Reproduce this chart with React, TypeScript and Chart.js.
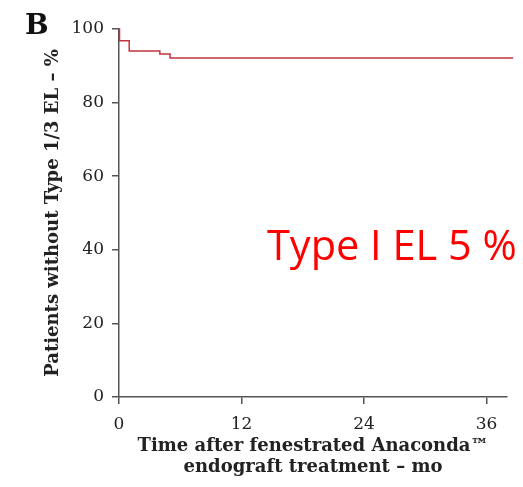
import React, { useEffect, useRef } from "react";
import { Chart, registerables } from "chart.js";

Chart.register(...registerables);

const months = [0, 0.05, 1, 4, 5, 38.6];
const survival = [100, 96.8, 94.0, 93.2, 92.1, 92.1];
const xTicks = [0, 12, 24, 36];
const yTicks = [0, 20, 40, 60, 80, 100];

const serif = "'DejaVu Serif', serif";
const axisColor = "#555555";

const textPlugin = {
  id: "extraText",
  afterDraw(chart: any) {
    const ctx = chart.ctx;
    ctx.save();
    ctx.fillStyle = "#111111";
    ctx.font = `bold 28px ${serif}`;
    ctx.textBaseline = "alphabetic";
    ctx.textAlign = "left";
    ctx.fillText("B", 25, 34);
    ctx.fillStyle = "#ff0000";
    ctx.font = "41.5px 'Open Sans', sans-serif";
    ctx.fillText("Type I EL 5 %", 267, 260);
    ctx.restore();
  },
};

export default function App() {
  const ref = useRef<HTMLCanvasElement>(null);
  useEffect(() => {
    if (!ref.current) return;
    const chart = new Chart(ref.current, {
      type: "line",
      data: {
        datasets: [
          {
            data: months.map((m, i) => ({ x: m, y: survival[i] })),
            borderColor: "#c4343f",
            borderWidth: 1.5,
            stepped: true,
            pointRadius: 0,
            fill: false,
            clip: false as any,
          },
        ],
      },
      options: {
        animation: false,
        responsive: true,
        maintainAspectRatio: false,
        layout: { padding: { left: 0, top: 29, right: 16, bottom: 0 } },
        plugins: { legend: { display: false }, tooltip: { enabled: false } },
        scales: {
          x: {
            type: "linear",
            min: 0,
            max: 38,
            afterFit: (s: any) => {
              s.height = 90;
            },
            afterBuildTicks: (s: any) => {
              s.ticks = xTicks.map((v) => ({ value: v }));
            },
            ticks: { font: { family: serif, size: 17 }, color: "#222", padding: 10, maxRotation: 0, autoSkip: false },
            grid: { drawOnChartArea: false, drawTicks: true, tickLength: 7, color: axisColor, lineWidth: 1.5 },
            border: { display: true, color: axisColor, width: 1.5 },
            title: {
              display: true,
              text: ["Time after fenestrated Anaconda™", "endograft treatment – mo"],
              font: { family: serif, size: 18, weight: "bold", lineHeight: 1.12 },
              color: "#222",
              padding: { top: 0, bottom: 10 },
            },
          },
          y: {
            min: 0,
            max: 100,
            afterFit: (s: any) => {
              s.width = 119;
            },
            afterBuildTicks: (s: any) => {
              s.ticks = yTicks.map((v) => ({ value: v }));
            },
            ticks: { font: { family: serif, size: 17 }, color: "#222", padding: 8 },
            grid: { drawOnChartArea: false, drawTicks: true, tickLength: 7, color: axisColor, lineWidth: 1.5 },
            border: { display: true, color: axisColor, width: 1.5 },
            title: {
              display: true,
              text: "Patients without Type 1/3 EL – %",
              font: { family: serif, size: 18, weight: "bold" },
              color: "#222",
              padding: { top: 43, bottom: 0 },
            },
          },
        },
      },
      plugins: [textPlugin],
    });
    return () => chart.destroy();
  }, []);
  return (
    <div style={{ position: "fixed", left: 0, top: 0, width: 523, height: 487, background: "#fff" }}>
      <canvas ref={ref} />
    </div>
  );
}
